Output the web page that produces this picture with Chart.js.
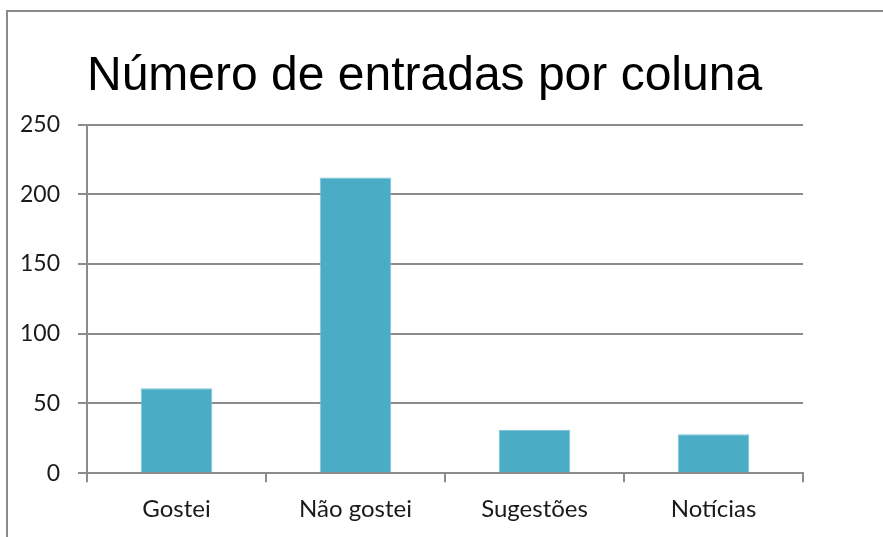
<!DOCTYPE html>
<html>
<head>
<meta charset="utf-8">
<script src="https://cdn.jsdelivr.net/npm/chart.js@4.4.0/dist/chart.umd.min.js"></script>
<style>
  html, body { margin: 0; padding: 0; background: #fff; overflow: hidden; }
  #moldura { position: absolute; left: 6px; top: 10px; width: 900px; height: 600px;
    border-top: 2px solid #8a8a8a; border-left: 2px solid #8a8a8a; }
  #caixa { position: absolute; left: 0; top: 0; width: 883px; height: 537px; }
</style>
</head>
<body>
<div id="moldura"></div>
<div id="caixa"><canvas id="grafica" width="883" height="537"></canvas></div>
<script>
const titulo = 'Número de entradas por coluna';
const categorias = ['Gostei', 'Não gostei', 'Sugestões', 'Notícias'];
const entradas = [61, 212, 31, 28];

const cinza = '#8c8c8c';
const ctx = document.getElementById('grafica').getContext('2d');

const chart = new Chart(ctx, {
  type: 'bar',
  data: {
    labels: categorias,
    datasets: [{
      label: 'Entradas',
      data: entradas,
      backgroundColor: '#4bacc6',
      borderColor: '#7fc6d9',
      borderWidth: 1,
      categoryPercentage: 1,
      barPercentage: 0.4
    }]
  },
  options: {
    responsive: false,
    animation: false,
    layout: { padding: { top: 0, right: 80, left: 0, bottom: 0 } },
    plugins: {
      legend: { display: false },
      tooltip: { enabled: false },
      title: {
        display: true,
        text: titulo,
        align: 'start',
        fullSize: false,
        color: '#000',
        font: { family: 'Liberation Sans', size: 48, weight: 'normal', lineHeight: 1.2 },
        padding: { top: 48, bottom: 19 }
      }
    },
    scales: {
      x: {
        grid: { offset: true, drawOnChartArea: false, drawTicks: true, tickLength: 9, color: cinza, lineWidth: 2 },
        border: { display: true, color: cinza, width: 2 },
        ticks: { color: '#1a1a1a', padding: 13, font: { family: 'Lato', size: 24 } }
      },
      y: {
        min: 0,
        max: 250,
        afterFit: (scale) => { scale.width = 87; },
        grid: { color: cinza, lineWidth: 2, tickLength: 9 },
        border: { display: true, color: cinza, width: 2 },
        ticks: { stepSize: 50, color: '#1a1a1a', padding: 18, font: { family: 'Lato', size: 23 } }
      }
    }
  }
});
</script>
</body>
</html>
